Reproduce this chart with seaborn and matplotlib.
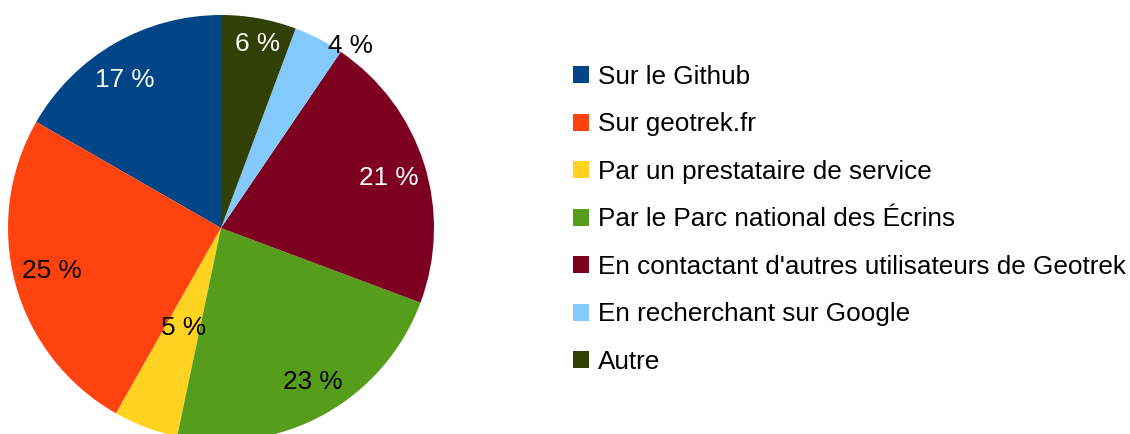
import numpy as np
import matplotlib
matplotlib.use("Agg")
import matplotlib.pyplot as plt
import seaborn as sns

# Données du graphique
categories = [
    "Sur le Github",
    "Sur geotrek.fr",
    "Par un prestataire de service",
    "Par le Parc national des Écrins",
    "En contactant d'autres utilisateurs de Geotrek",
    "En recherchant sur Google",
    "Autre",
]
parts = [16.7, 25.1, 4.9, 22.6, 21.2, 3.8, 5.7]
couleurs = ["#004586", "#ff420e", "#ffd320", "#579d1c", "#7e0021", "#83caff", "#314004"]
couleurs_texte = ["white", "black", "black", "black", "white", "black", "white"]

sns.set_theme(style="white")
plt.rcParams["font.family"] = ["Liberation Sans", "DejaVu Sans"]

W, H = 1130, 434
fig = plt.figure(figsize=(W / 100, H / 100), dpi=100)

# axe du camembert, placé pour que le disque soit coupé en bas
cx, cy, r = 221, 434 - 228, 213
aw = 460
ax = fig.add_axes([0, 0, aw / W, 1])
wedges, _, textes = ax.pie(parts, colors=couleurs, startangle=90, counterclock=True,
                           autopct=lambda p: f"{p:.0f} %", pctdistance=0.82,
                           textprops=dict(fontsize=18.8),
                           wedgeprops=dict(linewidth=0))
ax.set_xlim(-cx / r, (aw - cx) / r)
ax.set_ylim(-cy / r, (H - cy) / r)
ax.set_aspect("auto")
ax.axis("off")

# positions des étiquettes (rayon relatif, décalage angulaire)
rayons = [0.83, 0.82, 0.50, 0.84, 0.82, 1.05, 0.88]
decalages = [3, -1, 0, 2, -1, -8, -1]
for w, t, c, rr, dd in zip(wedges, textes, couleurs_texte, rayons, decalages):
    a = np.deg2rad((w.theta1 + w.theta2) / 2 + dd)
    t.set_position((rr * np.cos(a), rr * np.sin(a)))
    t.set_color(c)
    t.set_clip_on(False)

leg = fig.legend(wedges, categories, loc="upper left", bbox_to_anchor=(573 / W, 1 - 65 / H),
                 frameon=False, fontsize=18.8, handlelength=0.62, handleheight=0.62,
                 handletextpad=0.34, labelspacing=0.9, borderpad=0, borderaxespad=0)
for t in leg.get_texts():
    t.set_color("black")

fig.savefig("out.png", dpi=100)
